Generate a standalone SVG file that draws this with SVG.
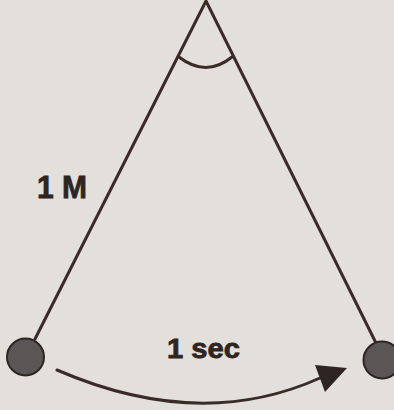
<svg xmlns="http://www.w3.org/2000/svg" width="394" height="410" viewBox="0 0 394 410">
<defs>
<style>
.ln{stroke:#3a2b27;stroke-width:3;fill:none;stroke-linecap:round;stroke-linejoin:round}
.bob{fill:#5a5655;stroke:#2e2523;stroke-width:2}
.lbl{font-family:"Liberation Sans",Arial,sans-serif;font-weight:bold;fill:#2e2523;stroke:#2e2523;stroke-width:0.8}
</style>
</defs>
<rect width="394" height="410" fill="#e3e0dc"/>
<g id="connectors">
<path class="ln" d="M35,339 L206,1 L376,343"/>
<path id="angle" class="ln" d="M179,57 Q206,78 232,57"/>
<path class="ln" d="M57,370 Q200,432 320,378"/>
<path d="M347,368 L315,365 L325,392 Z" fill="#2e2523"/>
</g>
<g id="bob-left"><circle class="bob" cx="25.5" cy="357" r="18.5"/></g>
<g id="bob-right"><circle class="bob" cx="382" cy="360" r="18.5"/></g>
<g id="label-length"><text class="lbl" x="37" y="198" font-size="32" textLength="50" lengthAdjust="spacingAndGlyphs">1 M</text></g>
<g id="label-time"><text class="lbl" x="167" y="358" font-size="28" textLength="73" lengthAdjust="spacingAndGlyphs">1 sec</text></g>
</svg>
